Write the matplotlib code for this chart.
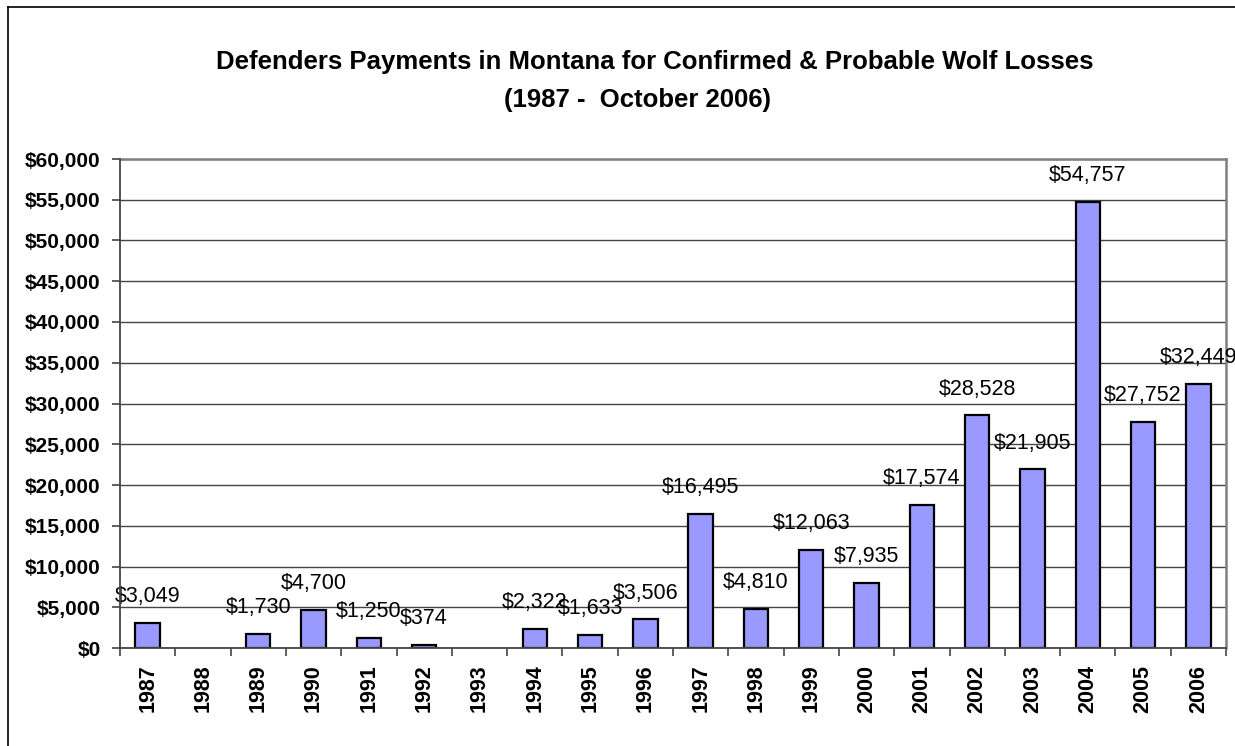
import matplotlib
matplotlib.use("Agg")
import matplotlib.pyplot as plt
from matplotlib.lines import Line2D
import numpy as np

years = ["1987", "1988", "1989", "1990", "1991", "1992", "1993", "1994", "1995", "1996",
         "1997", "1998", "1999", "2000", "2001", "2002", "2003", "2004", "2005", "2006"]
payments = [3049, 0, 1730, 4700, 1250, 374, 0, 2322, 1633, 3506,
            16495, 4810, 12063, 7935, 17574, 28528, 21905, 54757, 27752, 32449]
y_ticks = np.arange(0, 60001, 5000)

plt.rcParams['font.family'] = ['Liberation Sans', 'DejaVu Sans']

W, H = 1235, 746
fig = plt.figure(figsize=(W / 100, H / 100), dpi=100)
ax = fig.add_axes([120 / W, 1 - 648 / H, (1226 - 120) / W, (648 - 159) / H])

x = np.arange(len(years))
vals = np.array(payments, dtype=float)
shown = vals > 0
ax.bar(x[shown], vals[shown], width=0.44, color='#9999ff', edgecolor='black', linewidth=1.6, zorder=3)

for xi, v in zip(x, payments):
    if v == 0:
        continue
    ax.annotate(f"${v:,}", (xi, v), xytext=(0, 19), textcoords='offset points',
                ha='center', va='center', fontsize=15.5, zorder=4)

ax.set_xlim(-0.5, len(years) - 0.5)
ax.set_ylim(0, 60000)
ax.set_yticks(y_ticks)
ax.set_yticklabels([f"${v:,}" for v in y_ticks], fontsize=15, fontweight='bold')
ax.yaxis.grid(True, color='#444444', linewidth=1.0, zorder=0)

ax.set_xticks(np.arange(-0.5, len(years), 1.0))
ax.set_xticklabels([])
ax.set_xticks(x, minor=True)
ax.set_xticklabels(years, minor=True, rotation=90, fontsize=15.5, fontweight='bold')
ax.tick_params(axis='x', which='minor', length=0, pad=12)
ax.tick_params(axis='x', which='major', length=6, width=1.2, direction='out', color='#444444')
ax.tick_params(axis='y', length=6, width=1.2, direction='out', color='#444444', pad=8)

for side in ['top', 'right']:
    ax.spines[side].set_color('#808080')
    ax.spines[side].set_linewidth(1.8)
for side in ['left', 'bottom']:
    ax.spines[side].set_color('#444444')
    ax.spines[side].set_linewidth(1.3)
    ax.spines[side].set_zorder(5)

fig.text(655 / W, 1 - 62 / H, "Defenders Payments in Montana for Confirmed & Probable Wolf Losses",
         ha='center', va='center', fontsize=18.5, fontweight='bold')
fig.text(637 / W, 1 - 100 / H, "(1987 -  October 2006)",
         ha='center', va='center', fontsize=18.5, fontweight='bold')

# outer chart border (left and top edges visible)
fig.add_artist(Line2D([8 / W, 8 / W], [0, 1 - 7 / H], transform=fig.transFigure, color='black', linewidth=1.2))
fig.add_artist(Line2D([8 / W, 1], [1 - 7 / H, 1 - 7 / H], transform=fig.transFigure, color='black', linewidth=1.2))

fig.savefig("out.png", dpi=100)
